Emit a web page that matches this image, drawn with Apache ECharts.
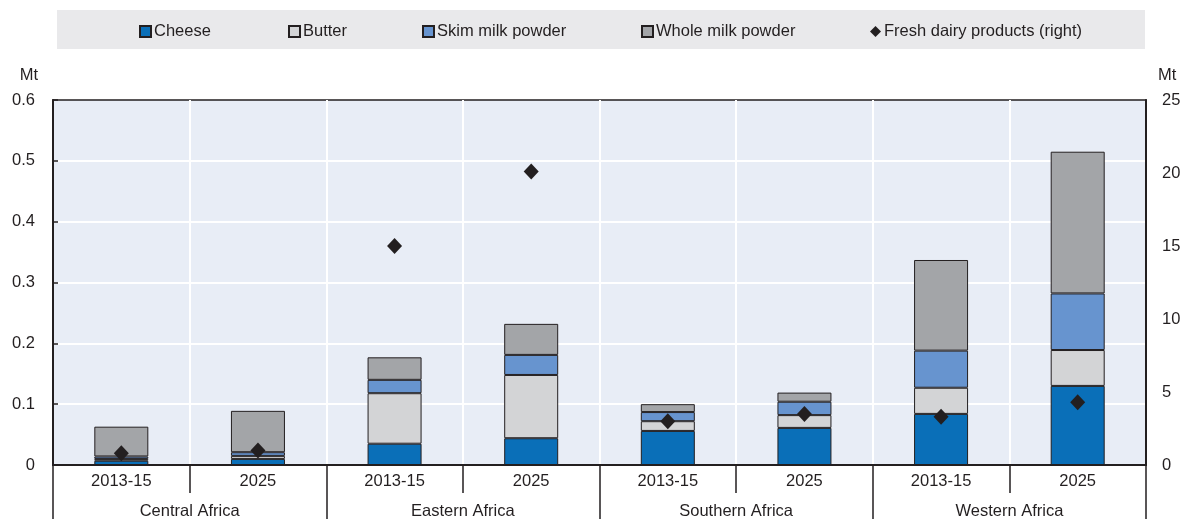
<!DOCTYPE html>
<html>
<head>
<meta charset="utf-8">
<script src="https://cdn.jsdelivr.net/npm/echarts@6/dist/echarts.min.js"></script>
<style>
html,body{margin:0;padding:0;background:#fff;}
#chart{width:1182px;height:519px;}
</style>
</head>
<body>
<div id="chart"></div>
<script>
// ---- data ----
const periods = ['2013-15','2025','2013-15','2025','2013-15','2025','2013-15','2025'];
const regions = ['Central Africa','Eastern Africa','Southern Africa','Western Africa'];
const cheese = [0.007, 0.010, 0.035, 0.044, 0.056, 0.061, 0.084, 0.130];
const butter = [0.003, 0.005, 0.083, 0.104, 0.016, 0.021, 0.043, 0.059];
const skimMilkPowder = [0.004, 0.006, 0.022, 0.033, 0.015, 0.022, 0.061, 0.093];
const wholeMilkPowder = [0.049, 0.068, 0.037, 0.051, 0.013, 0.015, 0.149, 0.233];
const freshDairy = [0.8, 1.0, 15.0, 20.1, 3.0, 3.5, 3.3, 4.3];
const leftTicks = {min: 0, max: 0.6, interval: 0.1};
const rightTicks = {min: 0, max: 25, interval: 5};

// ---- style ----
const FONT = "'Liberation Sans Narrow','Arial Narrow','Liberation Sans',Arial,sans-serif";
const TXT = '#231f20';
const EDGE = '#231f20';
const AX_FS = 16.5;
const LG_FS = 16.5;
const colors = {cheese:'#0a6fb8', butter:'#d3d4d6', smp:'#6794cf', wmp:'#a3a5a8', fresh:'#231f20'};

const chart = echarts.init(document.getElementById('chart'), null, {renderer:'canvas'});

function barSeries(name, data, color){
  return {
    name, type:'bar', stack:'total', data, xAxisIndex:0, yAxisIndex:0,
    barWidth:54,
    itemStyle:{color, borderColor:EDGE, borderWidth:1, opacity:1},
    emphasis:{disabled:true}
  };
}
function legendAt(name, left, icon, size){
  return {
    data:[{name, icon: icon || 'rect'}],
    left, top:18,
    itemWidth:size || 11, itemHeight:size || 11,
    textStyle:{fontFamily:FONT, fontSize:LG_FS, color:TXT, padding:[0,0,0,-2]},
    selectedMode:false
  };
}

const option = {
  animation:false,
  backgroundColor:'#ffffff',
  graphic:[{type:'rect', left:57, top:10, shape:{width:1088, height:39}, style:{fill:'#e9e9eb'}, z:-10, silent:true}],
  legend:[
    legendAt('Cheese', 134),
    legendAt('Butter', 283),
    legendAt('Skim milk powder', 417),
    legendAt('Whole milk powder', 636),
    legendAt('Fresh dairy products (right)', 865, 'diamond', 11)
  ],
  grid:{left:53, right:36, top:100, bottom:54, containLabel:false, outerBoundsMode:'none',
        show:true, backgroundColor:'#e8edf6', borderColor:EDGE, borderWidth:1.5},
  xAxis:[
    {
      type:'category', data:periods, position:'bottom', gridIndex:0,
      axisLine:{show:true, lineStyle:{color:EDGE, width:2}},
      axisTick:{show:true, interval:0, length:28, lineStyle:{color:EDGE, width:1.5}},
      axisLabel:{interval:0, margin:8, fontFamily:FONT, fontSize:AX_FS, color:TXT},
      splitLine:{show:true, interval:0, showMinLine:false, showMaxLine:false, lineStyle:{color:'#ffffff', width:2}}
    },
    {
      type:'category', data:regions, position:'bottom', gridIndex:0,
      axisLine:{show:false},
      axisTick:{show:true, interval:0, length:60, lineStyle:{color:EDGE, width:1.5}},
      axisLabel:{interval:0, margin:38, fontFamily:FONT, fontSize:AX_FS, color:TXT},
      splitLine:{show:false}
    }
  ],
  yAxis:[
    {
      type:'value', position:'left', min:leftTicks.min, max:leftTicks.max, interval:leftTicks.interval,
      name:'Mt', nameLocation:'end', nameGap:16,
      nameTextStyle:{fontFamily:FONT, fontSize:AX_FS, color:TXT, align:'right', padding:[0,15,0,0]},
      axisLine:{show:true, lineStyle:{color:EDGE, width:2}},
      axisTick:{show:true, inside:true, length:5, lineStyle:{color:EDGE, width:1.5}},
      axisLabel:{margin:18, fontFamily:FONT, fontSize:AX_FS, color:TXT, padding:[5,0,0,0]},
      splitLine:{show:true, showMinLine:false, showMaxLine:false, lineStyle:{color:'#ffffff', width:2}}
    },
    {
      type:'value', position:'right', min:rightTicks.min, max:rightTicks.max, interval:rightTicks.interval,
      name:'Mt', nameLocation:'end', nameGap:16,
      nameTextStyle:{fontFamily:FONT, fontSize:AX_FS, color:TXT, align:'left', padding:[0,0,0,12]},
      axisLine:{show:true, lineStyle:{color:EDGE, width:2}},
      axisTick:{show:false},
      axisLabel:{margin:16, fontFamily:FONT, fontSize:AX_FS, color:TXT, padding:[5,0,0,0]},
      splitLine:{show:false}
    }
  ],
  series:[
    barSeries('Cheese', cheese, colors.cheese),
    barSeries('Butter', butter, colors.butter),
    barSeries('Skim milk powder', skimMilkPowder, colors.smp),
    barSeries('Whole milk powder', wholeMilkPowder, colors.wmp),
    {
      name:'Fresh dairy products (right)', type:'scatter', data:freshDairy,
      xAxisIndex:0, yAxisIndex:1, symbol:'diamond', symbolSize:[15,16],
      itemStyle:{color:colors.fresh, opacity:1}, z:5, emphasis:{disabled:true}
    }
  ]
};
chart.setOption(option);
</script>
</body>
</html>
